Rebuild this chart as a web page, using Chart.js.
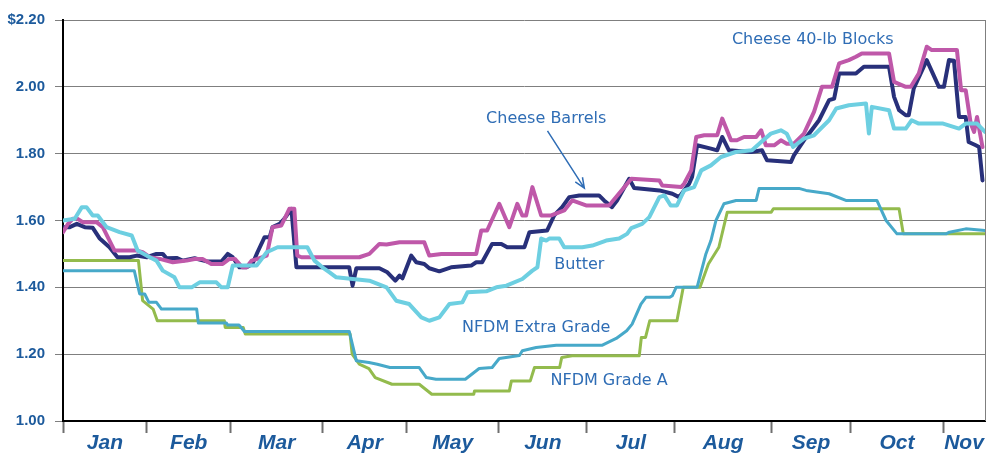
<!DOCTYPE html>
<html>
<head>
<meta charset="utf-8">
<script src="https://cdn.jsdelivr.net/npm/chart.js@4"></script>
<style>
  html, body { margin: 0; padding: 0; background: #fff; }
  canvas { display: block; }
</style>
</head>
<body>
<canvas id="chart" width="994" height="454"></canvas>
<script>
// x = trading day counted from Jan 1, y = $/lb
const months = ["Jan", "Feb", "Mar", "Apr", "May", "Jun", "Jul", "Aug", "Sep", "Oct", "Nov"];
const monthStarts = [0, 20, 40, 62, 82, 104, 125, 146, 169, 188, 210];
const lastDay = 220;
const yTicks = [1.0, 1.2, 1.4, 1.6, 1.8, 2.0, 2.2];

const cheeseBlocks = [
  [0, 1.565], [1.2, 1.59], [2.3, 1.605], [3.5, 1.605], [4.7, 1.595], [8, 1.595], [9.5, 1.58],
  [11.1, 1.54], [12.3, 1.51], [17.6, 1.51], [19, 1.505], [20.7, 1.49], [23.1, 1.485], [26.2, 1.475],
  [29.5, 1.48], [31.4, 1.485], [33.3, 1.485], [35.4, 1.47], [38.1, 1.47], [39.7, 1.485], [41, 1.485],
  [42.8, 1.46], [43.8, 1.46], [45, 1.48], [46.4, 1.485], [48.6, 1.495], [50, 1.58], [52.1, 1.585],
  [54, 1.635], [55.2, 1.635], [55.9, 1.495], [56.9, 1.49], [70.7, 1.49], [73.1, 1.5], [75.5, 1.53],
  [77.2, 1.528], [80.3, 1.535], [86.2, 1.535], [87.4, 1.495], [90.3, 1.5], [98.6, 1.5], [99.8, 1.57],
  [101.2, 1.57], [104.1, 1.65], [106.5, 1.58], [108.4, 1.65], [109.6, 1.615], [110.5, 1.615], [112, 1.7],
  [114.1, 1.615], [116.5, 1.615], [119.6, 1.63], [121.5, 1.66], [124.8, 1.645], [130.3, 1.645],
  [135.6, 1.725], [142.3, 1.72], [143, 1.705], [147.5, 1.7], [148.2, 1.71], [149.9, 1.75], [151.1, 1.85],
  [153, 1.855], [156.1, 1.855], [157.3, 1.905], [159.4, 1.84], [160.8, 1.84], [162.5, 1.85], [165.4, 1.85],
  [166.6, 1.87], [167.7, 1.825], [169.7, 1.825], [171.3, 1.84], [172.7, 1.83], [174.4, 1.83], [176.8, 1.86],
  [179.2, 1.925], [181.1, 2.0], [183.5, 2.0], [185.2, 2.07], [187.5, 2.08], [189.2, 2.09], [190.6, 2.1],
  [197.1, 2.1], [198.3, 2.015], [201.1, 2.0], [202.3, 2.0], [204.2, 2.04], [206.1, 2.12], [207.3, 2.11],
  [213.3, 2.11], [214.3, 1.99], [215.4, 1.99], [216.6, 1.89], [217.4, 1.865], [218.1, 1.91], [219.4, 1.82]
];

const cheeseBarrels = [
  [0, 1.58], [1.6, 1.58], [3.3, 1.59], [5.2, 1.58], [7.1, 1.578], [8.7, 1.547], [11.1, 1.52], [13, 1.49],
  [15.9, 1.49], [17.6, 1.495], [20, 1.49], [22.3, 1.5], [23.8, 1.5], [24.7, 1.487], [27.1, 1.488],
  [28.5, 1.48], [31.4, 1.487], [34.5, 1.477], [37.8, 1.477], [39.3, 1.5], [40.5, 1.49], [42.1, 1.46],
  [43.8, 1.46], [45.2, 1.47], [46.4, 1.505], [48.1, 1.55], [49.3, 1.55], [50, 1.58], [51.7, 1.59],
  [52.8, 1.605], [54.5, 1.635], [55.7, 1.46], [68.3, 1.46], [69.1, 1.405], [70, 1.457], [75.5, 1.457],
  [77.4, 1.445], [79.3, 1.42], [80.3, 1.435], [81, 1.427], [83.1, 1.495], [84.3, 1.475], [86.2, 1.47],
  [87.4, 1.457], [89.8, 1.448], [92.6, 1.46], [97.4, 1.465], [98.6, 1.475], [100, 1.475], [102.4, 1.53],
  [104.6, 1.53], [106, 1.52], [110.1, 1.52], [111.3, 1.565], [115.5, 1.57], [117.2, 1.615], [119.1, 1.64],
  [120.8, 1.67], [123.2, 1.675], [127.9, 1.675], [129.1, 1.66], [131, 1.64], [132.2, 1.66], [135.1, 1.725],
  [136.3, 1.697], [142.3, 1.69], [145.4, 1.68], [147, 1.67], [149.4, 1.71], [150.1, 1.73], [151.3, 1.825],
  [154.6, 1.815], [156.1, 1.81], [157.3, 1.85], [158.9, 1.81], [164.2, 1.805], [166.8, 1.81], [168, 1.78],
  [173.7, 1.775], [174.4, 1.795], [176.8, 1.84], [179.2, 1.88], [180.4, 1.9], [182.8, 1.96], [184, 1.965],
  [185.2, 2.04], [189.2, 2.04], [191.1, 2.06], [197.1, 2.06], [198.3, 1.97], [199.5, 1.93], [201.1, 1.915],
  [201.8, 1.915], [203, 1.995], [206.1, 2.08], [209, 2.0], [210.2, 2.0], [211.4, 2.08], [212.6, 2.078],
  [213.8, 1.91], [215.4, 1.91], [216.1, 1.835], [217.8, 1.825], [218.6, 1.82], [219.4, 1.72]
];

const butter = [
  [0, 1.6], [2.8, 1.605], [4.5, 1.64], [5.6, 1.64], [7.1, 1.615], [8.3, 1.615], [10.4, 1.58], [13.5, 1.565],
  [16.4, 1.555], [17.8, 1.51], [20.7, 1.49], [22.3, 1.48], [23.8, 1.45], [26.6, 1.43], [27.8, 1.4],
  [30.7, 1.4], [32.6, 1.415], [36.6, 1.415], [37.8, 1.4], [39.3, 1.4], [40.5, 1.465], [46.2, 1.465],
  [48.6, 1.505], [51.2, 1.52], [58.3, 1.52], [60, 1.48], [61.9, 1.46], [63.6, 1.445], [65.2, 1.43],
  [73.1, 1.42], [77.2, 1.4], [79.5, 1.36], [82.6, 1.35], [85.5, 1.31], [87.4, 1.3], [89.8, 1.31],
  [92.2, 1.35], [95.3, 1.355], [96.5, 1.385], [101, 1.388], [103.4, 1.4], [105.8, 1.405], [109.6, 1.425],
  [112, 1.45], [113.2, 1.46], [114.1, 1.546], [115.3, 1.54], [116, 1.546], [118.4, 1.546], [119.6, 1.52],
  [123.9, 1.52], [126.3, 1.525], [129.6, 1.54], [132.7, 1.546], [134.6, 1.56], [135.6, 1.577], [138.2, 1.59],
  [139.9, 1.61], [142.3, 1.67], [143.5, 1.675], [145, 1.645], [146.5, 1.645], [148.2, 1.69], [150.6, 1.7],
  [152.3, 1.75], [154.6, 1.765], [157, 1.79], [160.5, 1.805], [164.4, 1.81], [166.6, 1.835], [168.9, 1.86],
  [171.3, 1.87], [172.7, 1.86], [174.2, 1.82], [176.8, 1.845], [179.2, 1.855], [180.4, 1.87], [182.8, 1.9],
  [184.5, 1.935], [187.5, 1.945], [191.6, 1.95], [192.3, 1.86], [193, 1.94], [197.1, 1.93], [198.3, 1.875],
  [201.1, 1.875], [202.5, 1.9], [204.2, 1.89], [210, 1.89], [213.8, 1.875], [215.4, 1.89], [218.1, 1.89],
  [220, 1.865]
];

const nfdmExtra = [
  [0, 1.45], [17, 1.45], [18.3, 1.38], [19.5, 1.38], [20.5, 1.355], [22.3, 1.355], [23.5, 1.335],
  [31.9, 1.335], [32.3, 1.293], [39, 1.293], [39.3, 1.287], [42, 1.287], [43.3, 1.268], [68.3, 1.268],
  [70, 1.18], [73, 1.175], [75, 1.17], [78, 1.16], [85, 1.16], [86.7, 1.13], [89, 1.125], [96, 1.125],
  [99.3, 1.157], [102.4, 1.16], [104.1, 1.187], [108.9, 1.196], [109.6, 1.21], [112.9, 1.22], [117.7, 1.227],
  [128.7, 1.227], [132, 1.247], [134.5, 1.27], [135.8, 1.29], [137.9, 1.35], [139.1, 1.37], [144.7, 1.37],
  [145.4, 1.375], [146.3, 1.4], [151.3, 1.4], [153.4, 1.5], [154.6, 1.54], [155.8, 1.6], [157.7, 1.65],
  [160.6, 1.66], [165.4, 1.66], [166.1, 1.696], [175.6, 1.696], [177.3, 1.69], [182.8, 1.68], [186.8, 1.66],
  [194.2, 1.66], [196.4, 1.6], [199, 1.56], [210.7, 1.56], [211.5, 1.565], [215.4, 1.575], [220, 1.57]
];

const nfdmGradeA = [
  [0, 1.48], [18, 1.48], [19, 1.36], [21.5, 1.335], [22.5, 1.3], [38.5, 1.3], [38.7, 1.28], [43, 1.28],
  [43.5, 1.26], [68.5, 1.26], [69, 1.2], [70.7, 1.17], [73, 1.157], [74.5, 1.13], [78.5, 1.11], [85, 1.11],
  [88, 1.08], [98, 1.08], [98.2, 1.09], [106.5, 1.09], [107, 1.12], [111.5, 1.12], [112.5, 1.16],
  [118.5, 1.16], [119, 1.19], [121.5, 1.195], [137.5, 1.195], [138, 1.25], [139, 1.25], [140, 1.3],
  [146.5, 1.3], [148, 1.4], [152, 1.4], [154, 1.47], [156.5, 1.52], [158.5, 1.625], [169, 1.625],
  [169.5, 1.635], [199.5, 1.635], [200.5, 1.56], [220, 1.56]
];

const labelColor = "#2F6DB5";
const axisTextColor = "#1C5A9C";

const toPoints = (arr) => arr.map(([x, y]) => ({ x, y }));

// month boundaries get a tick mark, month middles get the name
const monthMids = monthStarts.map((s, i) => (s + (monthStarts[i + 1] ?? lastDay)) / 2);
const xTickValues = [...monthStarts, ...monthMids];

const seriesLabels = {
  id: "seriesLabels",
  afterDatasetsDraw(chart) {
    const { ctx, scales: { x, y }, chartArea } = chart;
    ctx.save();

    // right frame line
    ctx.strokeStyle = "#7f7f7f";
    ctx.lineWidth = 1;
    ctx.beginPath();
    ctx.moveTo(chartArea.right + 0.5, chartArea.top);
    ctx.lineTo(chartArea.right + 0.5, chartArea.bottom);
    ctx.stroke();

    ctx.font = '16px "Comic Sans MS", "DejaVu Sans", sans-serif';
    ctx.fillStyle = labelColor;
    ctx.textAlign = "center";
    ctx.textBaseline = "middle";
    const labels = [
      ["Cheese 40-lb Blocks", 178.9, 2.14],
      ["Cheese Barrels", 115.3, 1.905],
      ["Butter", 123.2, 1.466],
      ["NFDM Extra Grade", 112.9, 1.28],
      ["NFDM Grade A", 130.3, 1.12],
    ];
    labels.forEach(([t, dx, dy]) => ctx.fillText(t, x.getPixelForValue(dx), y.getPixelForValue(dy)));

    // arrow from "Cheese Barrels" to its line
    const x0 = x.getPixelForValue(115.6), y0 = y.getPixelForValue(1.868);
    const x1 = x.getPixelForValue(124.4), y1 = y.getPixelForValue(1.697);
    ctx.strokeStyle = labelColor;
    ctx.lineWidth = 1.5;
    ctx.beginPath();
    ctx.moveTo(x0, y0);
    ctx.lineTo(x1, y1);
    const ang = Math.atan2(y1 - y0, x1 - x0);
    ctx.moveTo(x1 - 11 * Math.cos(ang - 0.4), y1 - 11 * Math.sin(ang - 0.4));
    ctx.lineTo(x1, y1);
    ctx.lineTo(x1 - 11 * Math.cos(ang + 0.4), y1 - 11 * Math.sin(ang + 0.4));
    ctx.stroke();
    ctx.restore();
  },
};

new Chart(document.getElementById("chart"), {
  type: "line",
  data: {
    datasets: [
      { label: "Butter", data: toPoints(butter), borderColor: "#6DCFE1", borderWidth: 4 },
      { label: "Cheese 40-lb Blocks", data: toPoints(cheeseBlocks), borderColor: "#BF58A9", borderWidth: 4 },
      { label: "Cheese Barrels", data: toPoints(cheeseBarrels), borderColor: "#28307A", borderWidth: 4 },
      { label: "NFDM Extra Grade", data: toPoints(nfdmExtra), borderColor: "#47A9C9", borderWidth: 3 },
      { label: "NFDM Grade A", data: toPoints(nfdmGradeA), borderColor: "#93BB4D", borderWidth: 3 },
    ],
  },
  options: {
    responsive: false,
    animation: false,
    devicePixelRatio: 1,
    layout: { padding: { top: 20, right: 9, left: 0, bottom: 0 } },
    elements: {
      point: { radius: 0 },
      line: { tension: 0, fill: false, borderJoinStyle: "round", borderCapStyle: "round" },
    },
    plugins: { legend: { display: false }, tooltip: { enabled: false } },
    scales: {
      x: {
        type: "linear",
        min: 0,
        max: lastDay,
        afterBuildTicks: (axis) => {
          axis.ticks = xTickValues.map((v) => ({ value: v }));
        },
        afterFit: (axis) => { axis.height = 33; },
        ticks: {
          autoSkip: false,
          maxRotation: 0,
          padding: -2,
          color: axisTextColor,
          font: { family: '"Liberation Sans Narrow", "Liberation Sans", Arial, sans-serif', size: 21, weight: "bold", style: "italic" },
          callback: (value) => {
            const i = monthMids.indexOf(value);
            return i >= 0 ? months[i] : "";
          },
        },
        grid: {
          drawOnChartArea: false,
          tickLength: 12,
          tickWidth: 2,
          tickColor: (c) => (c.tick && monthStarts.includes(c.tick.value) ? "#6f6f6f" : "rgba(0,0,0,0)"),
        },
        border: { color: "#000", width: 2 },
      },
      y: {
        min: 1.0,
        max: 2.2,
        afterBuildTicks: (axis) => {
          axis.ticks = yTicks.map((v) => ({ value: v }));
        },
        afterFit: (axis) => { axis.width = 63; },
        ticks: {
          padding: 10,
          color: axisTextColor,
          font: { family: '"Liberation Sans Narrow", "Liberation Sans", Arial, sans-serif', size: 15, weight: "bold" },
          callback: (v) => (v >= 2.19 ? "$" : "") + v.toFixed(2),
        },
        grid: { color: "#7f7f7f", lineWidth: 1, tickLength: 8, tickColor: "#7f7f7f" },
        border: { color: "#000", width: 2 },
      },
    },
  },
  plugins: [seriesLabels],
});
</script>
</body>
</html>
